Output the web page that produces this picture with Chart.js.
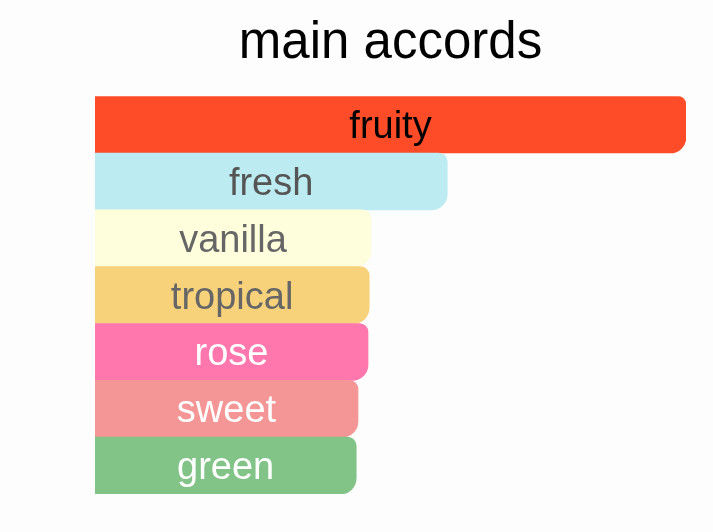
<!DOCTYPE html>
<html lang="en">
<head>
  <meta charset="UTF-8">
  <title>main accords</title>
  <script src="https://cdn.jsdelivr.net/npm/chart.js"></script>
  <style>
    html, body {
      margin: 0;
      padding: 0;
      background-color: #fdfdfd;
    }
    #chart-container {
      position: absolute;
      left: 95px;
      top: 0;
      width: 591px;
      height: 532px;
    }
  </style>
</head>
<body>
  <div id="chart-container">
    <canvas id="accordsChart"></canvas>
  </div>
  <script>
    const accords = ['fruity', 'fresh', 'vanilla', 'tropical', 'rose', 'sweet', 'green'];
    const strength = [100, 59.6, 46.7, 46.4, 46.2, 44.5, 44.2];
    const barColors = ['#fe4c29', '#bcecf1', '#fffedc', '#f8d27a', '#ff77ad', '#f49696', '#82c487'];
    const textColors = ['#000000', '#555555', '#666666', '#666666', '#ffffff', '#ffffff', '#ffffff'];

    // writes the accord name in the middle of each bar
    const barLabels = {
      id: 'barLabels',
      afterDatasetsDraw(chart) {
        const ctx = chart.ctx;
        const meta = chart.getDatasetMeta(0);
        ctx.save();
        ctx.font = '38px "Liberation Sans", Arial, Helvetica, sans-serif';
        ctx.textAlign = 'center';
        ctx.textBaseline = 'middle';
        meta.data.forEach((bar, i) => {
          ctx.fillStyle = textColors[i];
          ctx.fillText(accords[i], (bar.base + bar.x) / 2, bar.y + 3);
        });
        ctx.restore();
      }
    };

    const ctx = document.getElementById('accordsChart').getContext('2d');
    const accordsChart = new Chart(ctx, {
      type: 'bar',
      data: {
        labels: accords,
        datasets: [{
          data: strength,
          backgroundColor: barColors,
          borderWidth: 0,
          borderSkipped: false,
          borderRadius: { topLeft: 0, bottomLeft: 0, topRight: 9, bottomRight: 16 },
          barPercentage: 1,
          categoryPercentage: 1
        }]
      },
      options: {
        indexAxis: 'y',
        responsive: true,
        maintainAspectRatio: false,
        animation: false,
        layout: {
          padding: { left: 0, right: 0, top: 0, bottom: 38 }
        },
        scales: {
          x: { display: false, min: 0, max: 100 },
          y: { display: false }
        },
        plugins: {
          legend: { display: false },
          tooltip: { enabled: false },
          title: {
            display: true,
            text: 'main accords',
            color: '#000000',
            font: { family: '"Liberation Sans", Arial, Helvetica, sans-serif', size: 51, weight: 'normal' },
            padding: { top: 13, bottom: 22 }
          }
        }
      },
      plugins: [barLabels]
    });
  </script>
</body>
</html>
